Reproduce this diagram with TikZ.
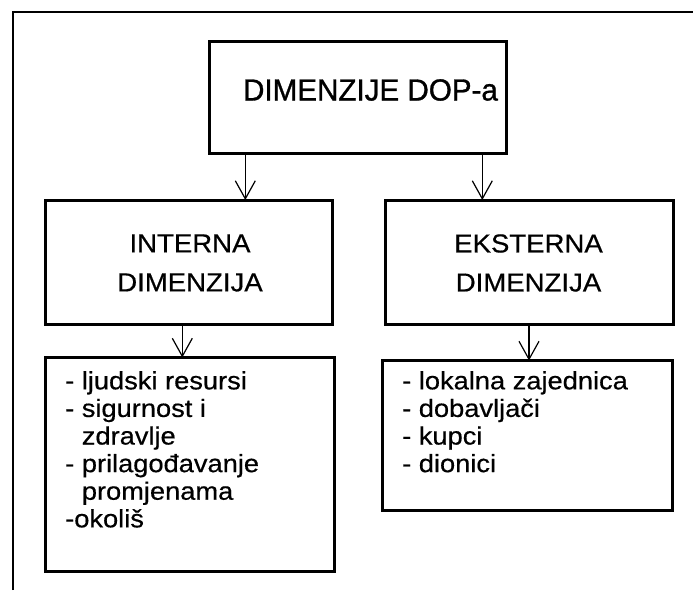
\documentclass[tikz,border=0pt]{standalone}
\usepackage{fontspec}
\setmainfont{Liberation Sans}
\newfontfamily\topfont[FakeStretch=0.97,FakeBold=1.0]{Liberation Sans}
\newfontfamily\midfont[FakeStretch=1.06,FakeBold=0.5]{Liberation Sans}
\newfontfamily\listfont[FakeStretch=1.09,FakeBold=0.5]{Liberation Sans}
\usetikzlibrary{arrows.meta}
\begin{document}
\begin{tikzpicture}[x=1pt,y=-1pt,
  box/.style={draw, line width=3pt, inner sep=0pt, outer sep=0pt, rectangle},
  arr/.style={-{Straight Barb[length=18pt,width=20pt]}, line width=1.2pt},
  toptext/.style={font=\topfont\fontsize{30.5}{36}\selectfont, inner sep=0pt, anchor=base},
  midtext/.style={font=\midfont\fontsize{26}{39}\selectfont, align=center, inner sep=0pt},
  listtext/.style={font=\listfont\fontsize{25}{27.6}\selectfont, align=left, inner sep=0pt, anchor=north west},
  ]
\useasboundingbox (0,0) rectangle (693,590);
% outer frame
\draw[line width=2.3pt, line join=miter] (13.3,590) -- (13.3,12.2) -- (693,12.2);
% boxes
\node[box, minimum width=297pt, minimum height=112pt] (top) at (357.5,97.5) {};
\node[box, minimum width=287pt, minimum height=124pt] (int) at (189,262) {};
\node[box, minimum width=288pt, minimum height=124pt] (ext) at (529.8,262) {};
\node[box, minimum width=289pt, minimum height=214pt] (intl) at (189.6,464.5) {};
\node[box, minimum width=290pt, minimum height=150pt] (extl) at (527.2,435.5) {};
% texts
\node[toptext] (toptxt) at (370.5,100.5) {DIMENZIJE DOP-a};
\node[midtext] (inttxt) at (190,263) {INTERNA\\DIMENZIJA};
\node[midtext] (exttxt) at (528.5,263) {EKSTERNA\\DIMENZIJA};
\node[listtext] (intlist) at (65,371) {- ljudski resursi\\- sigurnost i\\\hphantom{- }zdravlje\\- prilagođavanje\\\hphantom{- }promjenama\\-okoliš};
\node[listtext] (extlist) at (402,371) {- lokalna zajednica\\- dobavljači\\- kupci\\- dionici};
% arrows
\coordinate (c1) at (245.3,0);
\coordinate (c2) at (482.3,0);
\coordinate (c3) at (182.3,0);
\coordinate (c4) at (529,0);
\draw[arr] (top.south -| c1) -- (int.north -| c1);
\draw[arr] (top.south -| c2) -- (ext.north -| c2);
\draw[arr] (int.south -| c3) -- (intl.north -| c3);
\draw[arr] (ext.south -| c4) -- (extl.north -| c4);
\end{tikzpicture}
\end{document}
